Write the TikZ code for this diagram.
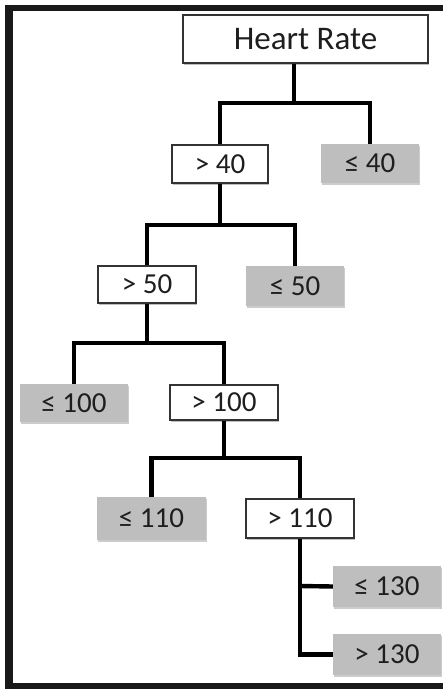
\documentclass[tikz,border=0pt]{standalone}
\usepackage{fontspec}
\setmainfont{Carlito}
\usetikzlibrary{backgrounds,shadows}
\definecolor{leafgray}{HTML}{BEBEBE}
\definecolor{edgegray}{HTML}{333333}
\definecolor{inkgray}{HTML}{1E1E1E}
\tikzset{
  splitbox/.style={draw=edgegray, line width=1.4pt, fill=white, text=inkgray,
    font=\fontsize{29}{32}\selectfont, inner sep=0pt,
    drop shadow={shadow xshift=1.2pt, shadow yshift=-1.5pt, opacity=0.25, fill=black}},
  leafbox/.style={fill=leafgray, text=inkgray,
    font=\fontsize{29}{32}\selectfont, inner sep=0pt,
    drop shadow={shadow xshift=1.2pt, shadow yshift=-1.5pt, opacity=0.2, fill=black}},
  branch/.style={line width=4.4pt, black},
  framebar/.style={line width=#1, black!90},
}
\begin{document}
\begin{tikzpicture}[x=1pt, y=-1pt]
  \useasboundingbox (0,0) rectangle (443,689);

  % outer frame: left, top and bottom bars
  \draw[framebar=8pt] (9,5) -- (9,689);
  \draw[framebar=6pt] (5,8) -- (443,8);
  \draw[framebar=6pt] (5,686) -- (443,686);

  % decision nodes
  \node[splitbox, minimum width=245pt, minimum height=48pt, font=\fontsize{33}{36}\selectfont]
    (root) at (305.5,39) {Heart Rate};
  \node[splitbox, minimum width=96pt, minimum height=38pt] (n40) at (220,164) {> 40};
  \node[leafbox, minimum width=98pt, minimum height=39pt] (l40) at (370,163.5) {≤ 40};
  \node[splitbox, minimum width=98pt, minimum height=37pt] (n50) at (147,284.5) {> 50};
  \node[leafbox, minimum width=98pt, minimum height=40pt] (l50) at (295,286) {≤ 50};
  \node[leafbox, minimum width=108pt, minimum height=38pt] (l100) at (74,403) {≤ 100};
  \node[splitbox, minimum width=108pt, minimum height=35pt] (n100) at (224,402.5) {> 100};
  \node[leafbox, minimum width=109pt, minimum height=43pt] (l110) at (151.5,518.5) {≤ 110};
  \node[splitbox, minimum width=108pt, minimum height=39pt] (n110) at (300,518.5) {> 110};
  \node[leafbox, minimum width=108pt, minimum height=41pt] (l130) at (387,586.5) {≤ 130};
  \node[leafbox, minimum width=108pt, minimum height=41pt] (g130) at (387,654.5) {> 130};

  % junction points of the branches
  \coordinate (rootstem) at (294,63);
  \coordinate (j1) at (294,103);
  \coordinate (j2) at (220,225);
  \coordinate (j3) at (147,343);
  \coordinate (j4) at (224,458);
  \coordinate (j5) at (300,586);
  \coordinate (j6) at (300,654.5);

  \begin{scope}[on background layer]
    \draw[branch] (rootstem) -- (j1);
    \draw[branch] (j1) -| (n40.north);
    \draw[branch] (j1) -| (l40.north);
    \draw[branch] (n40.south) -- (j2);
    \draw[branch] (j2) -| (n50.north);
    \draw[branch] (j2) -| (l50.north);
    \draw[branch] (n50.south) -- (j3);
    \draw[branch] (j3) -| (l100.north);
    \draw[branch] (j3) -| (n100.north);
    \draw[branch] (n100.south) -- (j4);
    \draw[branch] (j4) -| (l110.north);
    \draw[branch] (j4) -| (n110.north);
    \draw[branch] (n110.south) -- (j6);
    \draw[branch] (j5) -- (l130.west);
    \draw[branch] ([xshift=-2.2pt]j6) -- (g130.west);
  \end{scope}
\end{tikzpicture}
\end{document}
